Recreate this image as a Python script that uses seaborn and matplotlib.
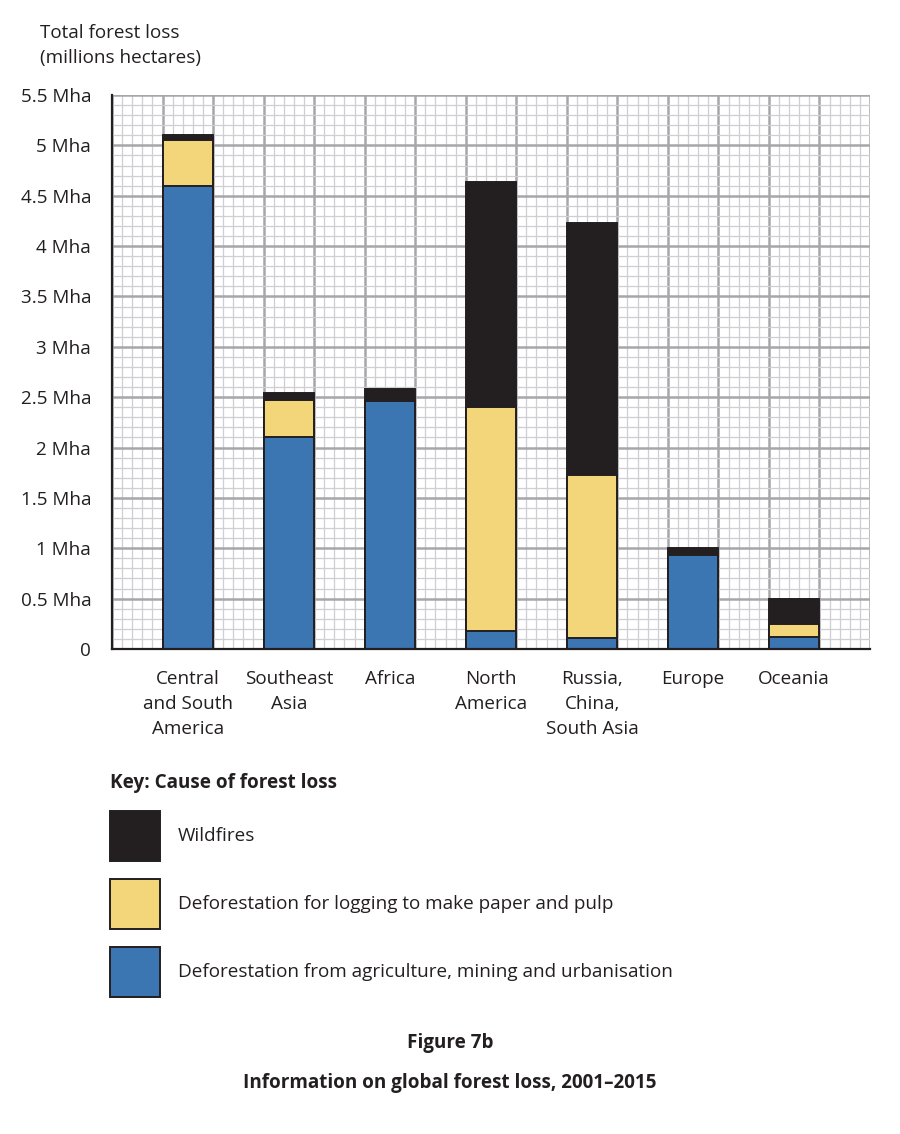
import numpy as np
import pandas as pd
import matplotlib
matplotlib.use("Agg")
import matplotlib.pyplot as plt
from matplotlib.patches import Patch
import seaborn as sns

# values (millions of hectares)
regions = ["Central\nand South\nAmerica", "Southeast\nAsia", "Africa", "North\nAmerica",
           "Russia,\nChina,\nSouth Asia", "Europe", "Oceania"]
agriculture = [4.60, 2.10, 2.46, 0.18, 0.11, 0.93, 0.12]
logging = [0.45, 0.37, 0.00, 2.22, 1.62, 0.00, 0.13]
wildfires = [0.05, 0.07, 0.12, 2.24, 2.50, 0.07, 0.25]

causes = ["Wildfires",
          "Deforestation for logging to make paper and pulp",
          "Deforestation from agriculture, mining and urbanisation"]
colours = ["#231f20", "#f3d67a", "#3b76b3"]
y_ticks = [0, 0.5, 1, 1.5, 2, 2.5, 3, 3.5, 4, 4.5, 5, 5.5]

sns.set_style("white")
plt.rcParams["font.family"] = ["Open Sans", "DejaVu Sans"]
FS = 13.6
INK = "#231f20"

df = pd.DataFrame({"region": regions, "agri": agriculture, "log": logging, "fire": wildfires})
df["top_log"] = df["agri"] + df["log"]
df["total"] = df["top_log"] + df["fire"]

fig = plt.figure(figsize=(9, 11.34), dpi=100)
ax = fig.add_axes([112 / 900, 1 - 649 / 1134, 758 / 900, 554 / 1134])

# graph paper background
xmin, xmax = -0.75, 6.75
for x in np.arange(xmin, xmax + 1e-6, 0.1):
    major = abs(((x - xmin) / 0.5) - round((x - xmin) / 0.5)) < 1e-6
    ax.axvline(x, color="#a6a6ab" if major else "#cfcfd3",
               lw=1.8 if major else 0.9, zorder=0)
for y in np.arange(0, 5.5 + 1e-6, 0.1):
    major = abs(y / 0.5 - round(y / 0.5)) < 1e-6
    ax.axhline(y, color="#a6a6ab" if major else "#cfcfd3",
               lw=1.8 if major else 0.9, zorder=0)

# stacked bars drawn as overlapping cumulative totals
for col, c in [("total", colours[0]), ("top_log", colours[1]), ("agri", colours[2])]:
    sns.barplot(data=df, x="region", y=col, color=c, width=0.5, ax=ax,
                edgecolor=INK, linewidth=1.4, saturation=1, zorder=3)

ax.set_xlim(xmin, xmax)
ax.set_ylim(0, 5.5)
ax.set_yticks(y_ticks)
ax.set_yticklabels(["0"] + [f"{t:g} Mha" for t in y_ticks[1:]], fontsize=FS)
ax.set_xticks(range(len(regions)))
ax.set_xticklabels(regions, fontsize=FS, linespacing=1.5)
ax.set_xlabel("")
ax.set_ylabel("")
ax.tick_params(axis="both", direction="out", length=8, width=1.4, color=INK, labelcolor=INK)
ax.tick_params(axis="y", pad=7)
ax.tick_params(axis="x", pad=7)
for s in ["top", "right"]:
    ax.spines[s].set_visible(False)
for s in ["left", "bottom"]:
    ax.spines[s].set_color(INK)
    ax.spines[s].set_linewidth(1.6)
    ax.spines[s].set_zorder(5)

fig.text(40 / 900, 1 - 24 / 1134, "Total forest loss\n(millions hectares)",
         fontsize=FS, color=INK, va="top", ha="left", linespacing=1.5)

handles = [Patch(facecolor=c, edgecolor=INK, linewidth=1.4) for c in colours]
leg = fig.legend(handles, causes, loc="upper left",
                 bbox_to_anchor=(110 / 900, 1 - 773 / 1134),
                 frameon=False, fontsize=FS, borderpad=0, borderaxespad=0,
                 handlelength=2.65, handleheight=3.69, handletextpad=0.95,
                 labelspacing=0.95, title="Key: Cause of forest loss",
                 title_fontproperties={"weight": "bold", "size": FS},
                 alignment="left", labelcolor=INK)
leg.get_title().set_color(INK)

fig.text(0.5, 1 - 1043 / 1134, "Figure 7b", fontsize=FS, weight="bold",
         color=INK, ha="center", va="center")
fig.text(0.5, 1 - 1083 / 1134, "Information on global forest loss, 2001\u20132015",
         fontsize=FS, weight="bold", color=INK, ha="center", va="center")

fig.savefig("out.png", dpi=100)
